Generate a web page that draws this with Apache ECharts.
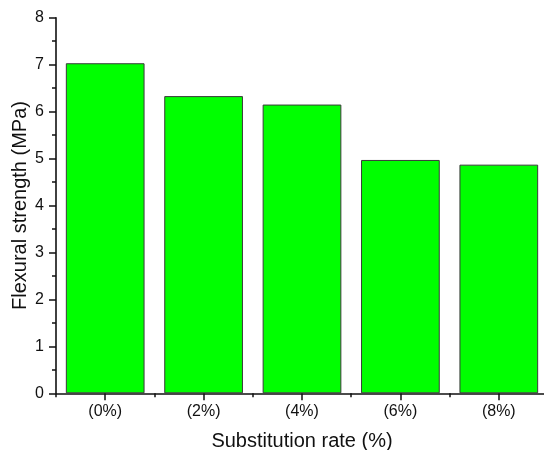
<!DOCTYPE html>
<html>
<head>
<meta charset="utf-8">
<script src="https://cdn.jsdelivr.net/npm/echarts@6/dist/echarts.min.js"></script>
<style>
html,body{margin:0;padding:0;background:#fff;}
#chart{width:544px;height:450px;}
</style>
</head>
<body>
<div id="chart"></div>
<script>
var categories = ['(0%)', '(2%)', '(4%)', '(6%)', '(8%)'];
var flexuralStrength = [7.03, 6.33, 6.15, 4.97, 4.87];
var yTicks = { min: 0, max: 8, interval: 1 };
var xTitle = 'Substitution rate (%)';
var yTitle = 'Flexural strength (MPa)';

var FONT = '"Liberation Sans", Arial, sans-serif';
var chart = echarts.init(document.getElementById('chart'), null, { renderer: 'canvas' });
chart.setOption({
  animation: false,
  backgroundColor: '#ffffff',
  grid: { left: 56, top: 17.7, width: 492, height: 375.6, containLabel: false, outerBoundsMode: 'none' },
  xAxis: [{
    type: 'category',
    data: categories,
    name: xTitle,
    nameLocation: 'middle',
    nameGap: 38,
    nameMoveOverlap: false,
    nameTextStyle: { fontFamily: FONT, fontSize: 20, color: '#111' },
    axisLine: { show: true, lineStyle: { color: '#111', width: 1.6 } },
    axisTick: { show: true, alignWithLabel: true, length: 7, inside: false, lineStyle: { color: '#111', width: 1.5 } },
    axisLabel: { fontFamily: FONT, fontSize: 16, color: '#111', margin: 10 },
    splitLine: { show: false }
  }, {
    type: 'category',
    data: categories,
    position: 'bottom',
    axisLine: { show: false },
    axisTick: { show: true, interval: 0, length: 4, lineStyle: { color: '#111', width: 1.5 } },
    axisLabel: { show: false },
    splitLine: { show: false }
  }],
  yAxis: {
    type: 'value',
    min: yTicks.min,
    max: yTicks.max,
    interval: yTicks.interval,
    name: yTitle,
    nameLocation: 'middle',
    nameGap: 26,
    nameMoveOverlap: false,
    nameTextStyle: { fontFamily: FONT, fontSize: 20, color: '#111' },
    axisLine: { show: true, lineStyle: { color: '#111', width: 1.6 } },
    axisTick: { show: true, length: 7, lineStyle: { color: '#111', width: 1.5 } },
    minorTick: { show: true, splitNumber: 2, length: 4, lineStyle: { color: '#111', width: 1.5 } },
    axisLabel: { fontFamily: FONT, fontSize: 16, color: '#111', margin: 12 },
    splitLine: { show: false }
  },
  series: [{
    type: 'bar',
    xAxisIndex: 0,
    data: flexuralStrength,
    barCategoryGap: '20%',
    itemStyle: { color: '#00ff00', borderColor: '#3a3a3a', borderWidth: 1 }
  }]
});
</script>
</body>
</html>
